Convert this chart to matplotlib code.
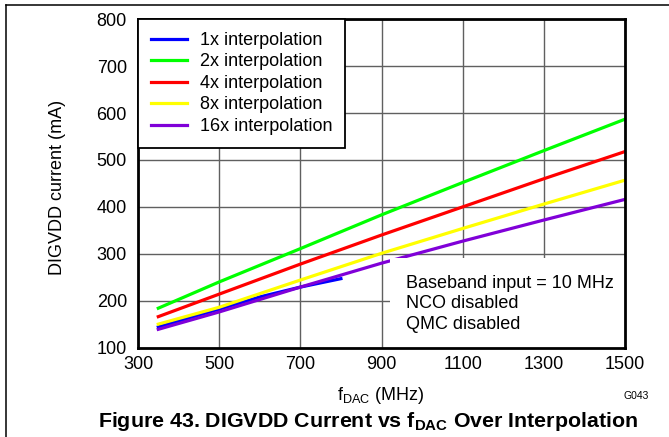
import matplotlib
matplotlib.use("Agg")
import matplotlib.pyplot as plt
from matplotlib.lines import Line2D
from matplotlib.patches import Rectangle

plt.rcParams['font.family'] = ['Liberation Sans', 'DejaVu Sans']
plt.rcParams['mathtext.fontset'] = 'custom'
plt.rcParams['mathtext.rm'] = 'Liberation Sans'
plt.rcParams['mathtext.bf'] = 'Liberation Sans:bold'

# data (MHz, mA)
f_1x = [350, 500, 600, 700, 800]
i_1x = [144, 182, 208, 229, 247]

f_dac = [350, 500, 700, 900, 1100, 1300, 1500]
i_2x = [184, 240, 311, 383, 452, 520, 587]
i_4x = [166, 214, 278, 340, 400, 460, 518]
i_8x = [150, 186, 244, 301, 354, 406, 457]
i_16x = [139, 176, 229, 280, 327, 372, 416]

labels = ['1x interpolation', '2x interpolation', '4x interpolation',
          '8x interpolation', '16x interpolation']
colors = ['#0000ff', '#00ff00', '#ff0000', '#ffff00', '#8000d8']

x_ticks = [300, 500, 700, 900, 1100, 1300, 1500]
y_ticks = [100, 200, 300, 400, 500, 600, 700, 800]

W, H = 669, 437
fig = plt.figure(figsize=(W / 100, H / 100), dpi=100)
ax = fig.add_axes([138 / W, 1 - 347.6 / H, 487 / W, 328.3 / H])

ax.plot(f_1x, i_1x, color=colors[0], lw=2.3, label=labels[0])
ax.plot(f_dac, i_2x, color=colors[1], lw=2.3, label=labels[1])
ax.plot(f_dac, i_4x, color=colors[2], lw=2.3, label=labels[2])
ax.plot(f_dac, i_8x, color=colors[3], lw=2.3, label=labels[3])
ax.plot(f_dac, i_16x, color=colors[4], lw=2.3, label=labels[4])

ax.set_xlim(300, 1500)
ax.set_ylim(100, 800)
ax.set_xticks(x_ticks)
ax.set_yticks(y_ticks)
ax.tick_params(length=0, labelsize=13)
ax.tick_params(axis='x', pad=6)
ax.tick_params(axis='y', pad=8)
ax.set_axisbelow(True)
ax.grid(True, color='#606060', lw=1.0)
for s in ax.spines.values():
    s.set_linewidth(2.0)
    s.set_color('black')

leg = ax.legend(loc='upper left', borderaxespad=0, fontsize=13, fancybox=False,
                edgecolor='black', framealpha=1, handlelength=2.0,
                handletextpad=0.75, labelspacing=0.25, borderpad=0.7)
leg.get_frame().set_linewidth(1.3)
leg.set_zorder(5)

ax.text(960, 193, 'Baseband input = 10 MHz\nNCO disabled\nQMC disabled',
        fontsize=13, va='center', ha='left', linespacing=1.3, zorder=2.4,
        bbox=dict(boxstyle='square,pad=0.9', facecolor='white', edgecolor='none'))

fig.text(57 / W, 1 - 187 / H, 'DIGVDD current (mA)', rotation=90,
         ha='center', va='center', fontsize=13)
fig.text(381 / W, 1 - 395 / H, r'f$_{\mathrm{DAC}}$ (MHz)',
         ha='center', va='center', fontsize=13)
# the source clips the bottom of the axis label
fig.add_artist(Rectangle((0.012, 1 - 407 / H), 0.98, 6 / H,
                         transform=fig.transFigure, facecolor='white',
                         edgecolor='none', zorder=3))
fig.text(636 / W, 1 - 396 / H, 'G043', ha='center', va='center', fontsize=7.5)
fig.text(368 / W, 1 - 427 / H,
         r'Figure 43. DIGVDD Current vs f$_{\mathbf{DAC}}$ Over Interpolation',
         ha='center', va='baseline', fontsize=15.4, fontweight='bold', zorder=4)

# outer frame of the page
fig.add_artist(Line2D([6 / W, 1], [1 - 5 / H, 1 - 5 / H], color='black', lw=1.1))
fig.add_artist(Line2D([6 / W, 6 / W], [0, 1 - 5 / H], color='black', lw=1.1))

fig.savefig('out.png', dpi=100)
